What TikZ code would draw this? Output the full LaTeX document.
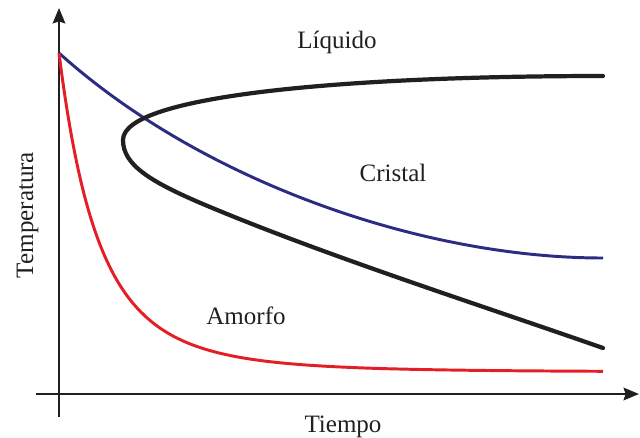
\documentclass[tikz,border=0pt]{standalone}
\usepackage{fontspec}
\setmainfont{Liberation Serif}
\usepackage{xcolor}
\usetikzlibrary{arrows.meta,positioning}

\definecolor{axisgray}{RGB}{35,31,32}
\definecolor{curveblue}{RGB}{44,44,131}
\definecolor{curvered}{RGB}{228,30,38}

\begin{document}
\begin{tikzpicture}[
  x=0.025cm, y=-0.025cm,
  font=\fontsize{17.8pt}{20pt}\selectfont,
  axis/.style={line width=1.4pt,color=axisgray,-{Stealth[length=11pt,width=9pt,inset=1.5pt]}},
  blueline/.style={line width=2.1pt,color=curveblue},
  redline/.style={line width=2.1pt,color=curvered},
  cline/.style={line width=3pt,color=axisgray,line cap=round},
  lab/.style={anchor=base,text=axisgray,inner sep=0pt}]
  \useasboundingbox (0,0) rectangle (640,437);
  % ejes
  \coordinate (ybot) at (59,417);
  \coordinate (ytip) at (59,8);
  \coordinate (xleft) at (36,394);
  \coordinate (xtip) at (639,394);
  \draw[axis] (ybot) -- (ytip);
  \draw[axis] (xleft) -- (xtip);
  % curvas
  \coordinate (start) at (59,53);
  \coordinate (bend) at (123,140);
  \draw[blueline] (start) .. controls (200,180) and (420,258) .. (603,258);
  \draw[redline] plot[domain=0:544,samples=200,smooth]
    ({59+\x},{372-319*exp(-4.25*ln(1+\x/170))});
  \draw[cline] (603,76) .. controls (350,76) and (123,95) .. (bend)
    .. controls (123,165) and (150,182) .. (210,207)
    .. controls (330,257) and (480,305) .. (603,348);
  % textos
  \node[lab] (liquido) at (337,48) {Líquido};
  \node[lab] (cristal) at (393,181) {Cristal};
  \node[lab] (amorfo) at (246,324) {Amorfo};
  \node[lab] (tiempo) at (343,432) {Tiempo};
  \node[lab,rotate=90] (temp) at (33,215) {Temperatura};
\end{tikzpicture}
\end{document}
